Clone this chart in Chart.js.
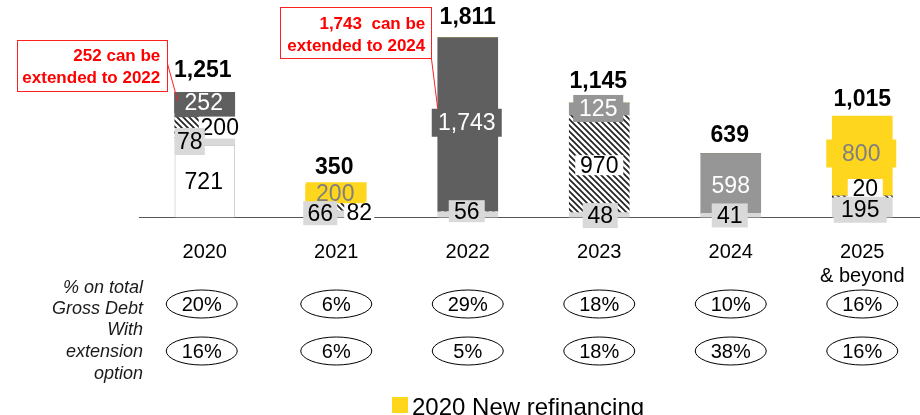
<!DOCTYPE html>
<html><head><meta charset="utf-8">
<script src="https://cdn.jsdelivr.net/npm/chart.js@4/dist/chart.umd.min.js"></script>
<style>
html,body{margin:0;padding:0;overflow:hidden;background:#fff;width:920px;height:415px}
#wrap{width:928px;height:415px}
canvas{display:block}
</style></head>
<body><div id="wrap"><canvas id="c" width="928" height="415"></canvas></div>
<script>
// ---------- DATA ----------
const categories = ['2020', '2021', '2022', '2023', '2024', ['2025', '& beyond']];
const otherDebt      = [721, 0, 0, 0, 0, 0];        // white, outlined
const shortTerm      = [78, 66, 56, 48, 41, 195];   // light grey
const hatchedDebt    = [200, 82, 0, 970, 0, 20];    // hatched
const mediumDebt     = [0, 0, 0, 125, 598, 0];      // medium grey
const darkDebt       = [252, 0, 1743, 0, 0, 0];     // dark grey
const newRefinancing = [0, 200, 0, 0, 0, 800];      // yellow
const totals         = [1251, 350, 1811, 1145, 639, 1015];
const pctGrossDebt   = ['20%', '6%', '29%', '18%', '10%', '16%'];
const pctWithExt     = ['16%', '6%', '5%', '18%', '38%', '16%'];
const rowLabels1     = ['% on total', 'Gross Debt'];
const rowLabels2     = ['With', 'extension', 'option'];
const note1          = ['252 can be ', 'extended to 2022 '];
const note2          = ['1,743  can be ', 'extended to 2024 '];
const legendText     = '2020 New refinancing';

// ---------- STYLE ----------
const FONT = '"Liberation Sans", Arial, Helvetica, sans-serif';
const C_LIGHT = '#d9d9d9', C_MED = '#969696', C_DARK = '#5f5f5f', C_YEL = '#ffd61e';

function makeHatch() {
  const s = 6, c = document.createElement('canvas');
  c.width = s; c.height = s;
  const g = c.getContext('2d');
  g.fillStyle = '#fff'; g.fillRect(0, 0, s, s);
  g.strokeStyle = '#222'; g.lineWidth = 1.7;
  g.beginPath();
  g.moveTo(-1, -1); g.lineTo(s + 1, s + 1);
  g.moveTo(-1, s - 1); g.lineTo(1, s + 1);
  g.moveTo(s - 1, -1); g.lineTo(s + 1, 1);
  g.stroke();
  return document.createElement('canvas').getContext('2d').createPattern(c, 'repeat');
}
const HATCH = makeHatch();

// label style per dataset: background box colour and text colour
const segStyle = [
  {bg: null, color: '#000'},
  {bg: C_LIGHT, color: '#000'},
  {bg: '#fff', color: '#000'},
  {bg: C_MED, color: '#fff'},
  {bg: C_DARK, color: '#fff'},
  {bg: C_YEL, color: '#7f7f7f'}
];
// label placement offsets (relative to segment centre) and box sizes
const segLayout = [
  [{dx:-1,dy:0.5}, null, null, null, null, null],
  [{dx:-15,dy:0,w:30,h:27}, {dx:-16,dy:-1,w:34,h:24}, {dx:-1,dy:-3.5,w:36,h:22}, {dx:1,dy:0.5,w:35,h:25}, {dx:-1,dy:0,w:36,h:24}, {dx:-2,dy:2,w:53,h:26}],
  [{dx:15,dy:0,w:42,h:22}, {dx:23,dy:6,w:30,h:22}, null, {dx:0,dy:1,w:48,h:20}, null, {dx:3,dy:-8.5,w:35,h:19}],
  [null, null, null, {dx:-1,dy:-1,w:50,h:27}, {dx:0,dy:2.5}, null],
  [{dx:-1,dy:-2.5,w:59,h:21}, null, {dx:-1,dy:-2,w:70,h:28}, null, null, null],
  [null, {dx:-1,dy:1,w:60,h:19}, null, null, null, {dx:-1,dy:-2.5,w:70,h:28}]
];
const totalLayout = [{dx:-2,dy:-22.4},{dx:-2,dy:-15.5},{dx:0,dy:-19.4},{dx:-1,dy:-22},{dx:-1,dy:-18.6},{dx:0,dy:-17}];
const drawOrder = [0, 2, 3, 4, 5, 1];

const fmt = v => v.toLocaleString('en-US');

const labelPlugin = {
  id: 'segLabels',
  afterDatasetsDraw(chart) {
    const ctx = chart.ctx;
    ctx.save();
    ctx.textAlign = 'center'; ctx.textBaseline = 'middle';
    ctx.font = '23px ' + FONT;
    drawOrder.forEach(di => {
      const meta = chart.getDatasetMeta(di);
      const ds = chart.data.datasets[di];
      meta.data.forEach((bar, i) => {
        const v = ds.data[i];
        const L = segLayout[di][i];
        if (!v || !L) return;
        const st = segStyle[di];
        const cx = bar.x + L.dx, cy = (bar.y + bar.base) / 2 + L.dy;
        if (st.bg && L.w) { ctx.fillStyle = st.bg; ctx.fillRect(cx - L.w / 2, cy - L.h / 2, L.w, L.h); }
        ctx.fillStyle = st.color;
        ctx.fillText(fmt(v), cx, cy + 1);
      });
    });
    // totals
    const xs = chart.scales.x, ys = chart.scales.y;
    ctx.font = 'bold 23px ' + FONT;
    ctx.fillStyle = '#000';
    totals.forEach((t, i) => {
      const L = totalLayout[i];
      ctx.fillText(fmt(t), xs.getPixelForValue(i) + L.dx, ys.getPixelForValue(t) + L.dy + 1);
    });
    ctx.restore();
  },
  afterDraw(chart) {
    const ctx = chart.ctx, xs = chart.scales.x;
    ctx.save();
    // annotations
    function note(lines, x0, y0, w, h, rightX, lineYs, from, to) {
      ctx.strokeStyle = '#ff2020'; ctx.lineWidth = 1;
      ctx.beginPath(); ctx.moveTo(from[0], from[1]); ctx.lineTo(to[0], to[1]); ctx.stroke();
      ctx.fillStyle = '#fff'; ctx.fillRect(x0, y0, w, h);
      ctx.strokeRect(x0 + 0.5, y0 + 0.5, w, h);
      ctx.fillStyle = '#ff0000'; ctx.font = 'bold 17px ' + FONT;
      ctx.textAlign = 'right'; ctx.textBaseline = 'middle';
      lines.forEach((t, k) => ctx.fillText(t, rightX, lineYs[k]));
    }
    const dark = chart.getDatasetMeta(4).data;
    const e0 = dark[0], e2 = dark[2];
    note(note1, 17, 40, 150, 51, 165, [56, 78], [167, 62], [e0.x - 27, (e0.y + e0.base) / 2 - 4]);
    note(note2, 280, 7, 151, 51, 430, [24, 46], [430, 47], [e2.x - 30, (e2.y + e2.base) / 2 - 16]);

    // row labels
    ctx.fillStyle = '#1a1a1a'; ctx.font = 'italic 18px ' + FONT;
    ctx.textAlign = 'right'; ctx.textBaseline = 'middle';
    [[rowLabels1, [288, 309]], [rowLabels2, [330, 352, 374]]].forEach(([ls, ys]) => {
      ls.forEach((t, k) => ctx.fillText(t, 143, ys[k]));
    });
    // ellipses
    ctx.font = '20px ' + FONT; ctx.textAlign = 'center';
    [[pctGrossDebt, 304], [pctWithExt, 351]].forEach(([arr, y]) => {
      arr.forEach((t, i) => {
        const x = xs.getPixelForValue(i) - (i === 0 ? 3 : 0);
        ctx.beginPath(); ctx.ellipse(x, y, 35.5, 14, 0, 0, Math.PI * 2);
        ctx.strokeStyle = '#000'; ctx.lineWidth = 1; ctx.stroke();
        ctx.fillStyle = '#000'; ctx.fillText(t, x, y + 1.5);
      });
    });
    // legend
    ctx.fillStyle = C_YEL; ctx.fillRect(392, 397, 16, 16);
    ctx.fillStyle = '#000'; ctx.font = '24px ' + FONT;
    ctx.textAlign = 'left'; ctx.textBaseline = 'alphabetic';
    ctx.fillText(legendText, 412, 415);
    ctx.restore();
  }
};

new Chart(document.getElementById('c'), {
  type: 'bar',
  data: {
    labels: categories,
    datasets: [
      {label: 'Other debt', data: otherDebt, backgroundColor: '#fff', borderColor: '#cfcfcf', borderWidth: {top: 1, left: 1, right: 1, bottom: 0}},
      {label: 'Short-term', data: shortTerm, backgroundColor: C_LIGHT},
      {label: 'Extendable', data: hatchedDebt, backgroundColor: HATCH},
      {label: 'Medium', data: mediumDebt, backgroundColor: C_MED},
      {label: 'Term loans', data: darkDebt, backgroundColor: C_DARK},
      {label: legendText, data: newRefinancing, backgroundColor: C_YEL}
    ]
  },
  options: {
    responsive: false,
    animation: false,
    devicePixelRatio: 1,
    layout: {padding: {left: 139, right: 0, top: 0, bottom: 0}},
    datasets: {bar: {barThickness: 60, borderSkipped: 'start'}},
    plugins: {legend: {display: false}, tooltip: {enabled: false}},
    scales: {
      x: {
        stacked: true,
        grid: {display: false, drawTicks: false},
        border: {display: true, color: '#555', width: 1},
        ticks: {font: {size: 20, family: FONT}, color: '#000', padding: 22.5, maxRotation: 0, autoSkip: false},
        afterFit(s) { s.height = 197.5; }
      },
      y: {stacked: true, display: false, min: 0, max: 2175}
    }
  },
  plugins: [labelPlugin]
});
</script>
</body></html>
